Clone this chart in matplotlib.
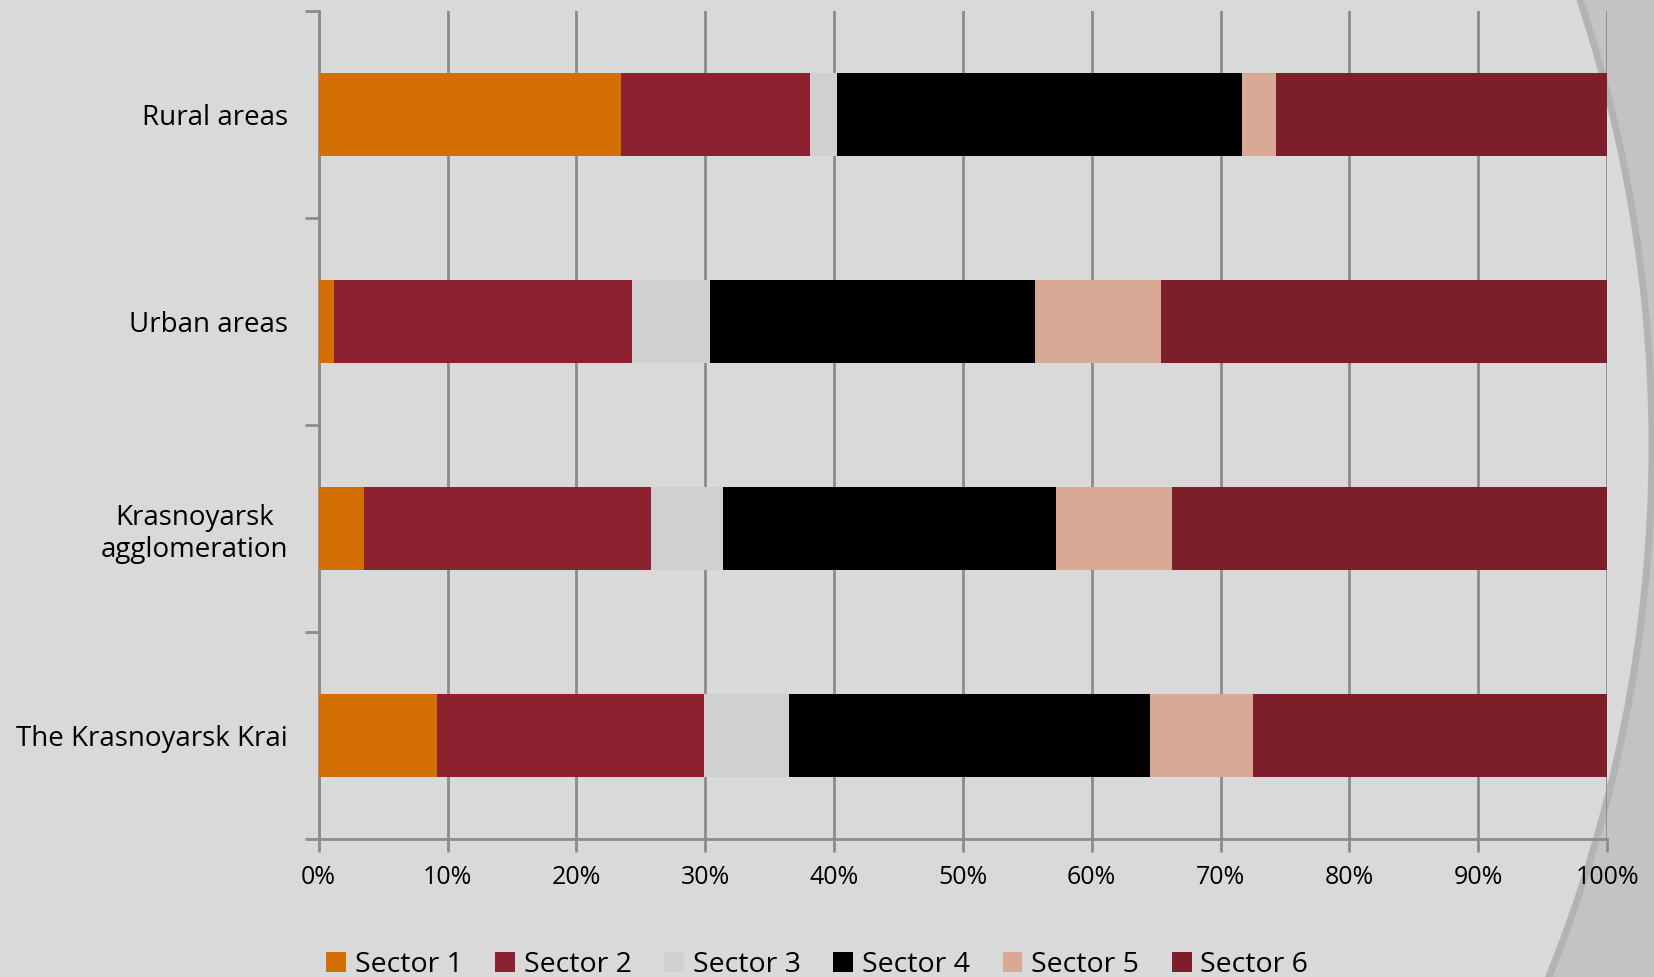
import matplotlib.pyplot as plt
from matplotlib.patches import Circle
import numpy as np

# data (percent shares)
categories = ["Rural areas", "Urban areas", "Krasnoyarsk\nagglomeration", "The Krasnoyarsk Krai"]
sectors = ["Sector 1", "Sector 2", "Sector 3", "Sector 4", "Sector 5", "Sector 6"]
sector1 = [23.5, 1.2, 3.5, 9.2]
sector2 = [14.6, 23.1, 22.3, 20.7]
sector3 = [2.1, 6.1, 5.6, 6.6]
sector4 = [31.5, 25.2, 25.8, 28.0]
sector5 = [2.6, 9.8, 9.0, 8.0]
sector6 = [25.7, 34.6, 33.8, 27.5]
colors = ["#D46F05", "#8C2130", "#D0D0D0", "#000000", "#DAA996", "#7D1F2A"]

plt.rcParams['font.family'] = ['Open Sans', 'DejaVu Sans']

fig = plt.figure(figsize=(16.54, 9.77), dpi=100, facecolor="#C3C3C3")

# slide background decoration: large light circle, darker area at right
bg = Circle((234, 531), 1418, transform=None, facecolor="#D9D9D9",
            edgecolor="#B3B3B3", linewidth=5, zorder=-10)
fig.patches.append(bg)

ax = fig.add_axes([0.1927, 0.1416, 0.9716 - 0.1927, 0.9887 - 0.1416])
ax.set_facecolor("none")

series = [sector1, sector2, sector3, sector4, sector5, sector6]
y = np.arange(len(categories))
left = np.zeros(len(categories))
for vals, col, name in zip(series, colors, sectors):
    vals = np.array(vals)
    ax.barh(y, vals, left=left, height=0.4, color=col, label=name, zorder=3)
    left += vals

ax.set_ylim(3.5, -0.5)
ax.set_xlim(0, 100)

ax.set_xticks(np.arange(0, 101, 10))
ax.set_xticklabels([f"{v}%" for v in range(0, 101, 10)], fontsize=18)
ax.set_yticks(np.arange(-0.5, 4, 1))
ax.set_yticklabels([])
ax.set_yticks(y, minor=True)
ax.set_yticklabels(categories, minor=True, fontsize=20, ha="right", multialignment="center")
ax.tick_params(axis="y", which="minor", length=0, pad=22)
ax.tick_params(axis="y", which="major", length=10, width=2, color="#8C8C8C")
ax.tick_params(axis="x", length=9, width=2, color="#8C8C8C", pad=10)

ax.grid(True, axis="x", color="#8C8C8C", linewidth=2, zorder=0)
for s in ["top", "right"]:
    ax.spines[s].set_visible(False)
for s in ["left", "bottom"]:
    ax.spines[s].set_color("#8C8C8C")
    ax.spines[s].set_linewidth(2)

fig.legend(loc="lower center", bbox_to_anchor=(0.494, -0.028), ncol=6, frameon=False,
           fontsize=20.5, handlelength=0.7, handleheight=0.7, columnspacing=1.15,
           handletextpad=0.3)

fig.savefig("out.png", dpi=100, facecolor=fig.get_facecolor())
